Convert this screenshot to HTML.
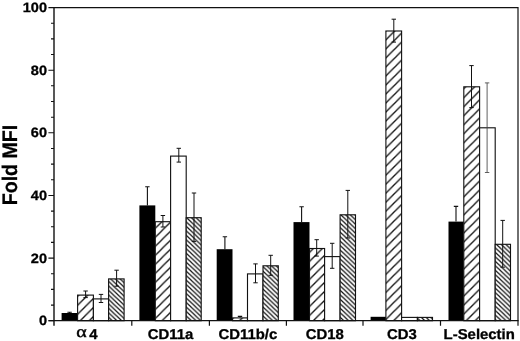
<!DOCTYPE html>
<html lang="en"><head><meta charset="utf-8"><title>Fold MFI</title>
<style>html,body{margin:0;padding:0;background:#fff}body{width:520px;height:341px;overflow:hidden}svg{display:block;will-change:transform}text{font-family:"Liberation Sans",sans-serif;font-weight:bold;fill:#000;stroke:#000;stroke-width:0.3px;text-rendering:geometricPrecision}</style>
</head><body>
<svg width="520" height="341" viewBox="0 0 520 341">
<defs>
<pattern id="h1g0" patternUnits="userSpaceOnUse" width="9.020" height="9.02" patternTransform="translate(77.60 7.61)"><path d="M-9.020 18.04 L18.040 -9.02 M-9.020 9.02 L9.020 -9.02 M0 18.04 L18.040 0" stroke="#111" stroke-width="1.32" fill="none"/></pattern>
<pattern id="h2g0" patternUnits="userSpaceOnUse" width="4.716" height="4.48" patternTransform="translate(108.60 3.66)"><path d="M-4.716 -4.48 L9.432 8.96 M-4.716 0 L4.716 8.96 M0 -4.48 L9.432 4.48" stroke="#111" stroke-width="1.22" fill="none"/></pattern>
<pattern id="h1g1" patternUnits="userSpaceOnUse" width="9.020" height="9.02" patternTransform="translate(155.30 2.79)"><path d="M-9.020 18.04 L18.040 -9.02 M-9.020 9.02 L9.020 -9.02 M0 18.04 L18.040 0" stroke="#111" stroke-width="1.32" fill="none"/></pattern>
<pattern id="h2g1" patternUnits="userSpaceOnUse" width="4.716" height="4.48" patternTransform="translate(186.20 2.25)"><path d="M-4.716 -4.48 L9.432 8.96 M-4.716 0 L4.716 8.96 M0 -4.48 L9.432 4.48" stroke="#111" stroke-width="1.22" fill="none"/></pattern>
<pattern id="h1g2" patternUnits="userSpaceOnUse" width="9.020" height="9.02" patternTransform="translate(232.50 3.00)"><path d="M-9.020 18.04 L18.040 -9.02 M-9.020 9.02 L9.020 -9.02 M0 18.04 L18.040 0" stroke="#111" stroke-width="1.32" fill="none"/></pattern>
<pattern id="h2g2" patternUnits="userSpaceOnUse" width="4.716" height="4.48" patternTransform="translate(263.00 2.36)"><path d="M-4.716 -4.48 L9.432 8.96 M-4.716 0 L4.716 8.96 M0 -4.48 L9.432 4.48" stroke="#111" stroke-width="1.22" fill="none"/></pattern>
<pattern id="h1g3" patternUnits="userSpaceOnUse" width="9.020" height="9.02" patternTransform="translate(309.50 8.83)"><path d="M-9.020 18.04 L18.040 -9.02 M-9.020 9.02 L9.020 -9.02 M0 18.04 L18.040 0" stroke="#111" stroke-width="1.32" fill="none"/></pattern>
<pattern id="h2g3" patternUnits="userSpaceOnUse" width="4.716" height="4.48" patternTransform="translate(340.10 3.55)"><path d="M-4.716 -4.48 L9.432 8.96 M-4.716 0 L4.716 8.96 M0 -4.48 L9.432 4.48" stroke="#111" stroke-width="1.22" fill="none"/></pattern>
<pattern id="h1g4" patternUnits="userSpaceOnUse" width="9.020" height="9.02" patternTransform="translate(385.90 3.72)"><path d="M-9.020 18.04 L18.040 -9.02 M-9.020 9.02 L9.020 -9.02 M0 18.04 L18.040 0" stroke="#111" stroke-width="1.32" fill="none"/></pattern>
<pattern id="h2g4" patternUnits="userSpaceOnUse" width="4.716" height="4.48" patternTransform="translate(417.40 0.00)"><path d="M-4.716 -4.48 L9.432 8.96 M-4.716 0 L4.716 8.96 M0 -4.48 L9.432 4.48" stroke="#111" stroke-width="1.22" fill="none"/></pattern>
<pattern id="h1g5" patternUnits="userSpaceOnUse" width="9.020" height="9.02" patternTransform="translate(463.80 7.40)"><path d="M-9.020 18.04 L18.040 -9.02 M-9.020 9.02 L9.020 -9.02 M0 18.04 L18.040 0" stroke="#111" stroke-width="1.32" fill="none"/></pattern>
<pattern id="h2g5" patternUnits="userSpaceOnUse" width="4.716" height="4.48" patternTransform="translate(495.20 1.30)"><path d="M-4.716 -4.48 L9.432 8.96 M-4.716 0 L4.716 8.96 M0 -4.48 L9.432 4.48" stroke="#111" stroke-width="1.22" fill="none"/></pattern>
</defs>
<rect width="520" height="341" fill="#fff"/>
<rect x="61.6" y="313.0" width="16.0" height="7.7" fill="#000"/>
<rect x="77.6" y="295.1" width="15.8" height="25.6" fill="#fff"/>
<rect x="77.6" y="295.1" width="15.8" height="25.6" fill="url(#h1g0)" stroke="#111" stroke-width="1.12"/>
<rect x="93.4" y="298.9" width="15.2" height="21.8" fill="#fff"/>
<rect x="93.4" y="298.9" width="15.2" height="21.8" fill="#fff" stroke="#111" stroke-width="1.12"/>
<rect x="108.6" y="278.9" width="15.5" height="41.8" fill="#fff"/>
<rect x="108.6" y="278.9" width="15.5" height="41.8" fill="url(#h2g0)" stroke="#111" stroke-width="1.12"/>
<rect x="139.4" y="205.4" width="15.9" height="115.3" fill="#000"/>
<rect x="155.3" y="221.7" width="15.3" height="99.0" fill="#fff"/>
<rect x="155.3" y="221.7" width="15.3" height="99.0" fill="url(#h1g1)" stroke="#111" stroke-width="1.12"/>
<rect x="170.6" y="156.1" width="15.6" height="164.6" fill="#fff"/>
<rect x="170.6" y="156.1" width="15.6" height="164.6" fill="#fff" stroke="#111" stroke-width="1.12"/>
<rect x="186.2" y="217.7" width="15.0" height="103.0" fill="#fff"/>
<rect x="186.2" y="217.7" width="15.0" height="103.0" fill="url(#h2g1)" stroke="#111" stroke-width="1.12"/>
<rect x="216.7" y="249.2" width="15.8" height="71.5" fill="#000"/>
<rect x="232.5" y="317.9" width="15.0" height="2.8" fill="#fff"/>
<rect x="232.5" y="317.9" width="15.0" height="2.8" fill="url(#h1g2)" stroke="#111" stroke-width="1.12"/>
<rect x="247.5" y="273.9" width="15.5" height="46.8" fill="#fff"/>
<rect x="247.5" y="273.9" width="15.5" height="46.8" fill="#fff" stroke="#111" stroke-width="1.12"/>
<rect x="263.0" y="265.8" width="15.3" height="54.9" fill="#fff"/>
<rect x="263.0" y="265.8" width="15.3" height="54.9" fill="url(#h2g2)" stroke="#111" stroke-width="1.12"/>
<rect x="293.5" y="222.1" width="16.0" height="98.6" fill="#000"/>
<rect x="309.5" y="248.5" width="15.1" height="72.2" fill="#fff"/>
<rect x="309.5" y="248.5" width="15.1" height="72.2" fill="url(#h1g3)" stroke="#111" stroke-width="1.12"/>
<rect x="324.6" y="256.6" width="15.5" height="64.1" fill="#fff"/>
<rect x="324.6" y="256.6" width="15.5" height="64.1" fill="#fff" stroke="#111" stroke-width="1.12"/>
<rect x="340.1" y="214.8" width="15.4" height="105.9" fill="#fff"/>
<rect x="340.1" y="214.8" width="15.4" height="105.9" fill="url(#h2g3)" stroke="#111" stroke-width="1.12"/>
<rect x="370.6" y="316.8" width="15.3" height="3.9" fill="#000"/>
<rect x="385.9" y="31.0" width="15.7" height="289.7" fill="#fff"/>
<rect x="385.9" y="31.0" width="15.7" height="289.7" fill="url(#h1g4)" stroke="#111" stroke-width="1.12"/>
<rect x="401.6" y="317.4" width="15.8" height="3.3" fill="#fff"/>
<rect x="401.6" y="317.4" width="15.8" height="3.3" fill="#fff" stroke="#111" stroke-width="1.12"/>
<rect x="417.4" y="317.4" width="15.1" height="3.3" fill="#fff"/>
<rect x="417.4" y="317.4" width="15.1" height="3.3" fill="url(#h2g4)" stroke="#111" stroke-width="1.12"/>
<rect x="448.5" y="221.6" width="15.3" height="99.1" fill="#000"/>
<rect x="463.8" y="86.8" width="15.8" height="233.9" fill="#fff"/>
<rect x="463.8" y="86.8" width="15.8" height="233.9" fill="url(#h1g5)" stroke="#111" stroke-width="1.12"/>
<rect x="479.6" y="127.8" width="15.6" height="192.9" fill="#fff"/>
<rect x="479.6" y="127.8" width="15.6" height="192.9" fill="#fff" stroke="#111" stroke-width="1.12"/>
<rect x="495.2" y="244.3" width="15.3" height="76.4" fill="#fff"/>
<rect x="495.2" y="244.3" width="15.3" height="76.4" fill="url(#h2g5)" stroke="#111" stroke-width="1.12"/>
<path d="M69.6 312.3 V313.0 M67.4 312.3 H71.8" stroke="#111" stroke-width="1.1" fill="none"/>
<path d="M85.6 291.0 V297.6 M83.4 291.0 H87.8 M83.4 297.6 H87.8" stroke="#111" stroke-width="1.0" fill="none"/>
<path d="M101.0 294.4 V302.5 M98.8 294.4 H103.2 M98.8 302.5 H103.2" stroke="#111" stroke-width="1.0" fill="none"/>
<path d="M116.6 270.2 V286.2 M114.4 270.2 H118.8 M114.4 286.2 H118.8" stroke="#111" stroke-width="1.0" fill="none"/>
<path d="M147.4 186.8 V205.4 M145.2 186.8 H149.6" stroke="#111" stroke-width="1.1" fill="none"/>
<path d="M162.9 215.5 V227.0 M160.7 215.5 H165.1 M160.7 227.0 H165.1" stroke="#111" stroke-width="1.0" fill="none"/>
<path d="M178.8 148.3 V162.1 M176.6 148.3 H181.0 M176.6 162.1 H181.0" stroke="#111" stroke-width="1.0" fill="none"/>
<path d="M194.0 193.0 V241.4 M191.8 193.0 H196.2 M191.8 241.4 H196.2" stroke="#111" stroke-width="1.0" fill="none"/>
<path d="M224.9 236.8 V249.2 M222.7 236.8 H227.1" stroke="#111" stroke-width="1.1" fill="none"/>
<path d="M240.0 316.4 V317.4 M237.8 316.4 H242.2" stroke="#111" stroke-width="1.1" fill="none"/>
<path d="M255.5 263.9 V282.8 M253.3 263.9 H257.7 M253.3 282.8 H257.7" stroke="#111" stroke-width="1.0" fill="none"/>
<path d="M270.7 255.3 V275.3 M268.5 255.3 H272.9 M268.5 275.3 H272.9" stroke="#111" stroke-width="1.0" fill="none"/>
<path d="M301.6 206.8 V222.1 M299.4 206.8 H303.8" stroke="#111" stroke-width="1.1" fill="none"/>
<path d="M316.7 239.7 V256.1 M314.5 239.7 H318.9 M314.5 256.1 H318.9" stroke="#111" stroke-width="1.0" fill="none"/>
<path d="M332.2 243.3 V268.3 M330.0 243.3 H334.4 M330.0 268.3 H334.4" stroke="#111" stroke-width="1.0" fill="none"/>
<path d="M347.8 190.4 V238.0 M345.6 190.4 H350.0 M345.6 238.0 H350.0" stroke="#111" stroke-width="1.0" fill="none"/>
<path d="M393.8 19.2 V42.1 M391.6 19.2 H396.0 M391.6 42.1 H396.0" stroke="#111" stroke-width="1.0" fill="none"/>
<path d="M456.0 206.4 V221.6 M453.8 206.4 H458.2" stroke="#111" stroke-width="1.1" fill="none"/>
<path d="M471.5 65.6 V107.6 M469.3 65.6 H473.7 M469.3 107.6 H473.7" stroke="#111" stroke-width="1.0" fill="none"/>
<path d="M487.1 82.9 V172.5 M484.9 82.9 H489.3 M484.9 172.5 H489.3" stroke="#444" stroke-width="0.85" fill="none"/>
<path d="M502.7 220.4 V267.2 M500.5 220.4 H504.9 M500.5 267.2 H504.9" stroke="#111" stroke-width="1.0" fill="none"/>
<path d="M54.0 7.55 H518.0 V320.72" stroke="#111" stroke-width="1.2" fill="none"/>
<path d="M54.0 6.95 V325.72" stroke="#111" stroke-width="1.4" fill="none"/>
<path d="M48.5 320.72 H518.6" stroke="#111" stroke-width="1.3" fill="none"/>
<path d="M48.4 320.7 H54.0 M51.0 305.1 H54.0 M51.0 289.4 H54.0 M51.0 273.7 H54.0 M48.4 258.1 H54.0 M51.0 242.4 H54.0 M51.0 226.8 H54.0 M51.0 211.1 H54.0 M48.4 195.5 H54.0 M51.0 179.8 H54.0 M51.0 164.1 H54.0 M51.0 148.5 H54.0 M48.4 132.8 H54.0 M51.0 117.2 H54.0 M51.0 101.5 H54.0 M51.0 85.8 H54.0 M48.4 70.2 H54.0 M51.0 54.5 H54.0 M51.0 38.9 H54.0 M51.0 23.2 H54.0 M48.4 7.6 H54.0" stroke="#111" stroke-width="1.1" fill="none"/>
<path d="M131.8 320.72 V325.7 M209.4 320.72 V325.7 M286.4 320.72 V325.7 M363.0 320.72 V325.7 M440.5 320.72 V325.7 M518.0 320.72 V325.7" stroke="#111" stroke-width="1.2" fill="none"/>
<text transform="translate(47.0 325.3) scale(1.075 1)" font-size="13.5" text-anchor="end">0</text>
<text transform="translate(47.0 262.6) scale(1.075 1)" font-size="13.5" text-anchor="end">20</text>
<text transform="translate(47.0 200.0) scale(1.075 1)" font-size="13.5" text-anchor="end">40</text>
<text transform="translate(47.0 137.4) scale(1.075 1)" font-size="13.5" text-anchor="end">60</text>
<text transform="translate(47.0 74.7) scale(1.075 1)" font-size="13.5" text-anchor="end">80</text>
<text transform="translate(47.0 12.1) scale(1.075 1)" font-size="13.5" text-anchor="end">100</text>
<text transform="translate(81.6 336.9) scale(1.25 1.03)" font-size="16" text-anchor="middle" style="font-family:'Liberation Serif','DejaVu Serif',serif;font-weight:normal;stroke-width:0.4px">α</text>
<text transform="translate(93.3 338.6) scale(1.05 1)" font-size="14.2" text-anchor="middle">4</text>
<text transform="translate(170.6 338.6) scale(1.05 1)" font-size="14.2" text-anchor="middle">CD11a</text>
<text transform="translate(247.9 338.6) scale(1.05 1)" font-size="14.2" text-anchor="middle">CD11b/c</text>
<text transform="translate(324.7 338.6) scale(1.05 1)" font-size="14.2" text-anchor="middle">CD18</text>
<text transform="translate(401.8 338.6) scale(1.05 1)" font-size="14.2" text-anchor="middle">CD3</text>
<text transform="translate(479.2 338.6) scale(1.05 1)" font-size="14.2" text-anchor="middle">L-Selectin</text>
<text transform="translate(17.1 165.0) rotate(-90) scale(0.933 1)" font-size="21" text-anchor="middle">Fold MFI</text>
</svg>
</body></html>
